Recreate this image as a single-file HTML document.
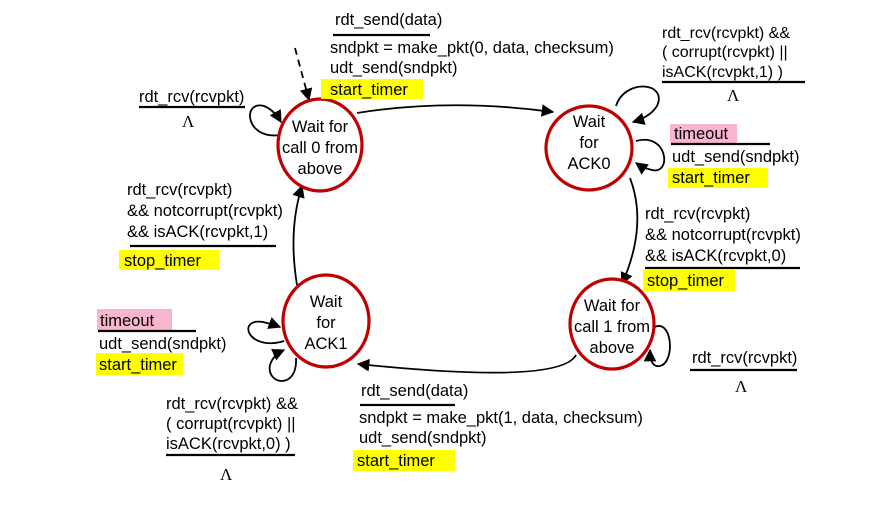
<!DOCTYPE html>
<html><head><meta charset="utf-8"><style>
body{margin:0;background:#fff}
text{font-family:"Liberation Sans",Arial,sans-serif;font-size:16.5px;fill:#000}
.c{text-anchor:middle;font-size:16.5px}
.l{font-family:"Liberation Serif",serif;font-size:17px}
.s{font-size:16px}
</style></head><body>
<svg width="892" height="522" viewBox="0 0 892 522" xmlns="http://www.w3.org/2000/svg">
<defs><marker id="a" viewBox="0 0 10 10" refX="9" refY="5" markerWidth="7" markerHeight="7" orient="auto"><path d="M0,0L10,5L0,10z" fill="#000"/></marker></defs>
<g fill="none" stroke="#000" stroke-width="1.8">
<path d="M295,48 L309,100" stroke-dasharray="7,5" marker-end="url(#a)"/>
<path d="M357,113 Q450,98 553,112" marker-end="url(#a)"/>
<path d="M630,178 Q648,225 622,284" marker-end="url(#a)"/>
<path d="M576,355 Q560,385 358,364" marker-end="url(#a)"/>
<path d="M297,285 Q288,230 302,186" marker-end="url(#a)"/>
<path d="M280,135 C245,140 242,100 264,106 Q274,110 281,122" marker-end="url(#a)"/>
<path d="M616,106 C625,78 668,82 657,106 Q650,117 633,122" marker-end="url(#a)"/>
<path d="M636,141 C668,132 672,175 652,170 Q643,168 636,163" marker-end="url(#a)"/>
<path d="M284,341 C248,352 236,318 263,322 Q272,324 280,327" marker-end="url(#a)"/>
<path d="M296,358 C298,390 266,385 270,365 Q273,355 284,350" marker-end="url(#a)"/>
<path d="M653,328 C672,316 676,362 660,366 Q650,368 650,350" marker-end="url(#a)"/>
</g>
<g fill="#fff" stroke="#c00000" stroke-width="3.2">
<ellipse cx="320" cy="145" rx="42" ry="46"/>
<ellipse cx="589" cy="148" rx="43" ry="42"/>
<ellipse cx="612" cy="324" rx="42" ry="45"/>
<ellipse cx="326" cy="321" rx="43" ry="46"/>
</g>
<text class="c" x="320" y="132">Wait for</text><text class="c" x="320" y="153">call 0 from</text><text class="c" x="320" y="174">above</text>
<text class="c" x="589" y="127">Wait</text><text class="c" x="589" y="148">for</text><text class="c" x="589" y="169">ACK0</text>
<text class="c" x="612" y="311">Wait for</text><text class="c" x="612" y="332">call 1 from</text><text class="c" x="612" y="353">above</text>
<text class="c" x="326" y="307">Wait</text><text class="c" x="326" y="328">for</text><text class="c" x="326" y="349">ACK1</text>
<g fill="#ffff00"><rect x="321" y="79" width="102" height="20"/><rect x="668" y="168" width="100" height="20"/><rect x="119" y="250" width="100" height="20"/><rect x="643" y="270" width="92" height="21"/><rect x="96" y="353" width="87" height="22"/><rect x="353" y="450" width="102" height="21"/></g>
<g fill="#f9b5d0"><rect x="670" y="124" width="67" height="19"/><rect x="97" y="309" width="75" height="21"/></g>
<g stroke="#000" stroke-width="2.2">
<line x1="333" y1="35" x2="430" y2="35"/><line x1="662" y1="82" x2="805" y2="82"/><line x1="671" y1="144" x2="770" y2="144"/>
<line x1="139" y1="107" x2="245" y2="107"/><line x1="130" y1="246" x2="276" y2="246"/><line x1="645" y1="268" x2="800" y2="268"/>
<line x1="98" y1="331" x2="196" y2="331"/><line x1="166" y1="455" x2="295" y2="455"/><line x1="360" y1="405" x2="455" y2="405"/><line x1="690" y1="370" x2="797" y2="370"/>
</g>
<text x="335" y="25">rdt_send(data)</text><text x="330" y="53">sndpkt = make_pkt(0, data, checksum)</text><text x="330" y="73">udt_send(sndpkt)</text><text x="330" y="95">start_timer</text>
<text class="s" x="662" y="38">rdt_rcv(rcvpkt) &amp;&amp;</text><text class="s" x="662" y="57">( corrupt(rcvpkt) ||</text><text class="s" x="662" y="77">isACK(rcvpkt,1) )</text><text class="l" x="727" y="101">Λ</text>
<text x="674" y="139">timeout</text><text x="672" y="162">udt_send(sndpkt)</text><text x="672" y="183">start_timer</text>
<text x="139" y="102">rdt_rcv(rcvpkt)</text><text class="l" x="182" y="127">Λ</text>
<text x="127" y="195">rdt_rcv(rcvpkt)</text><text x="127" y="216">&amp;&amp; notcorrupt(rcvpkt)</text><text x="127" y="237">&amp;&amp; isACK(rcvpkt,1)</text><text x="124" y="266">stop_timer</text>
<text x="645" y="219">rdt_rcv(rcvpkt)</text><text x="645" y="240">&amp;&amp; notcorrupt(rcvpkt)</text><text x="645" y="261">&amp;&amp; isACK(rcvpkt,0)</text><text x="647" y="286">stop_timer</text>
<text x="100" y="326">timeout</text><text x="99" y="349">udt_send(sndpkt)</text><text x="99" y="370">start_timer</text>
<text x="166" y="409">rdt_rcv(rcvpkt) &amp;&amp;</text><text x="166" y="429">( corrupt(rcvpkt) ||</text><text x="166" y="449">isACK(rcvpkt,0) )</text><text class="l" x="220" y="480">Λ</text>
<text x="361" y="396">rdt_send(data)</text><text x="359" y="423">sndpkt = make_pkt(1, data, checksum)</text><text x="359" y="443">udt_send(sndpkt)</text><text x="357" y="466">start_timer</text>
<text x="692" y="363">rdt_rcv(rcvpkt)</text><text class="l" x="735" y="392">Λ</text>
</svg>
</body></html>
